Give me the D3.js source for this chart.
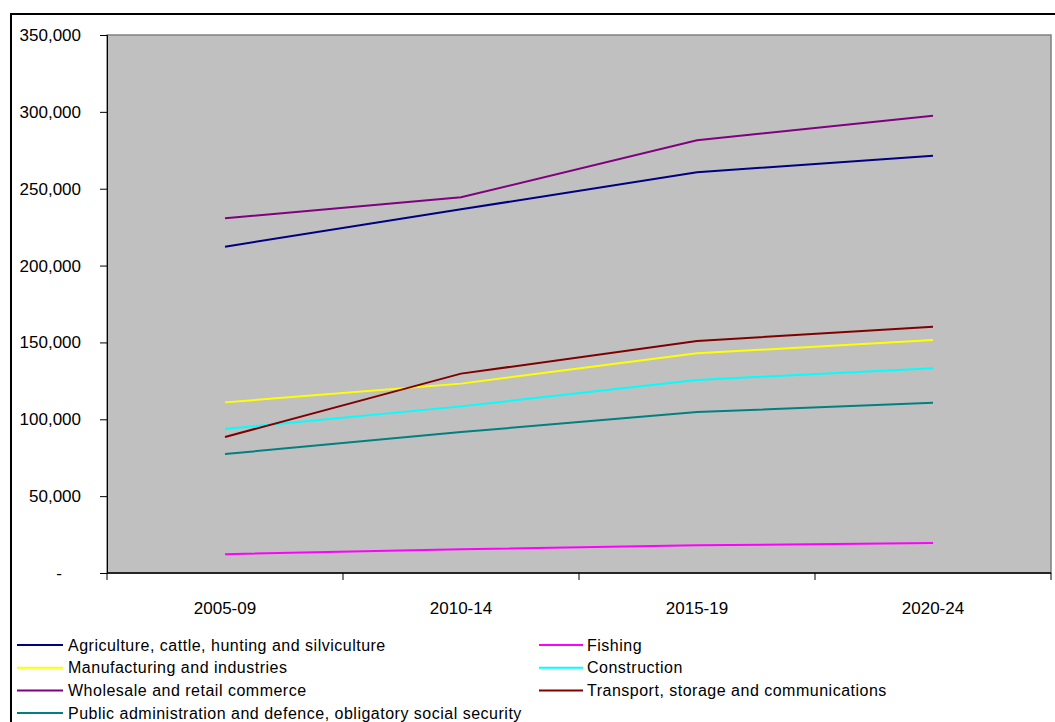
<!DOCTYPE html>
<html>
<head>
<meta charset="utf-8">
<script src="https://cdn.jsdelivr.net/npm/d3@7"></script>
<style>
  html, body { margin: 0; padding: 0; background: #fff; }
  svg { display: block; font-family: "Liberation Sans", Arial, sans-serif; }
</style>
</head>
<body>
<svg id="chart" width="1055" height="722"></svg>
<script>
// Periods on the x axis
const periods = ["2005-09", "2010-14", "2015-19", "2020-24"];

// Series values, one array per sector
const agriculture   = [212300, 236600, 260700, 271500];
const fishing       = [12200, 15500, 18000, 19500];
const manufacturing = [111000, 123200, 142900, 151600];
const construction  = [93700, 108400, 125600, 133200];
const wholesale     = [230800, 244400, 281500, 297500];
const transport     = [88500, 129700, 150900, 160200];
const publicAdmin   = [77400, 91700, 104700, 110800];

// Sector names as shown in the legend
const seriesNames = [
  "Agriculture, cattle, hunting and silviculture",
  "Fishing",
  "Manufacturing and industries",
  "Construction",
  "Wholesale and retail commerce",
  "Transport, storage and communications",
  "Public administration and defence, obligatory social security"
];
const seriesValues = [agriculture, fishing, manufacturing, construction, wholesale, transport, publicAdmin];
const seriesColors = ["#000080", "#ff00ff", "#ffff00", "#00ffff", "#800080", "#800000", "#008080"];

// Y tick values
const yTicks = [0, 50000, 100000, 150000, 200000, 250000, 300000, 350000];

const svg = d3.select("#chart");

// Outer frame
svg.append("rect")
  .attr("x", 11).attr("y", 14).attr("width", 1100).attr("height", 800)
  .attr("fill", "#fff").attr("stroke", "#000").attr("stroke-width", 2);

const plot = { left: 107, right: 1051, top: 35, bottom: 573 };

const x = d3.scaleBand().domain(periods).range([plot.left, plot.right]).padding(0);
const y = d3.scaleLinear().domain([0, 350000]).range([plot.bottom, plot.top]);

// Plot area background
svg.append("rect")
  .attr("x", plot.left).attr("y", plot.top)
  .attr("width", plot.right - plot.left).attr("height", plot.bottom - plot.top)
  .attr("fill", "#c0c0c0").attr("stroke", "#808080").attr("stroke-width", 1.5);

// Y axis
const fmt = d3.format(",");
const yAxis = d3.axisLeft(y).tickValues(yTicks).tickSize(7).tickPadding(19)
  .tickFormat(d => d === 0 ? "-" : fmt(d));
const gy = svg.append("g").attr("transform", `translate(${plot.left},0)`).call(yAxis);
gy.select(".domain").attr("stroke", "#000");
gy.selectAll(".tick line").attr("stroke", "#000");
gy.selectAll(".tick text").attr("fill", "#000").attr("font-size", 17)
  .attr("font-family", "Liberation Sans, Arial, sans-serif")
  .attr("dx", d => d === 0 ? -19 : 0);

// X axis with ticks at band boundaries
const gx = svg.append("g").attr("transform", `translate(0,${plot.bottom})`);
gx.append("line").attr("x1", plot.left).attr("x2", plot.right)
  .attr("y1", 0).attr("y2", 0).attr("stroke", "#000").attr("stroke-width", 1.5);
const bounds = periods.map(p => x(p)).concat([x(periods[periods.length - 1]) + x.bandwidth()]);
gx.selectAll("line.tk").data(bounds).join("line").attr("class", "tk")
  .attr("x1", d => d).attr("x2", d => d).attr("y1", 0).attr("y2", 7)
  .attr("stroke", "#000");
gx.selectAll("text").data(periods).join("text")
  .attr("x", d => x(d) + x.bandwidth() / 2).attr("y", 41)
  .attr("text-anchor", "middle").attr("font-size", 17).attr("fill", "#000")
  .text(d => d);

// Series lines
const line = d3.line()
  .x((d, i) => x(periods[i]) + x.bandwidth() / 2)
  .y(d => y(d));
svg.append("g").selectAll("path").data(seriesValues).join("path")
  .attr("d", d => line(d))
  .attr("fill", "none")
  .attr("stroke", (d, i) => seriesColors[i])
  .attr("stroke-width", 2);

// Legend: two columns
const legend = svg.append("g");
const legendItems = seriesNames.map((name, i) => ({
  name, color: seriesColors[i],
  col: i % 2, row: Math.floor(i / 2)
}));
const colX = [17, 539];
const swatchLen = [46, 44];
const textOff = [51, 48];
const rowY = d => 645 + d * 22.7;
const item = legend.selectAll("g").data(legendItems).join("g")
  .attr("transform", d => `translate(${colX[d.col]},${rowY(d.row)})`);
item.append("line").attr("x1", 0).attr("x2", d => swatchLen[d.col]).attr("y1", 0).attr("y2", 0)
  .attr("stroke", d => d.color).attr("stroke-width", 2);
item.append("text").attr("x", d => textOff[d.col]).attr("y", 5.5)
  .attr("font-size", 16).attr("letter-spacing", 0.5).attr("fill", "#000")
  .text(d => d.name);
</script>
</body>
</html>
